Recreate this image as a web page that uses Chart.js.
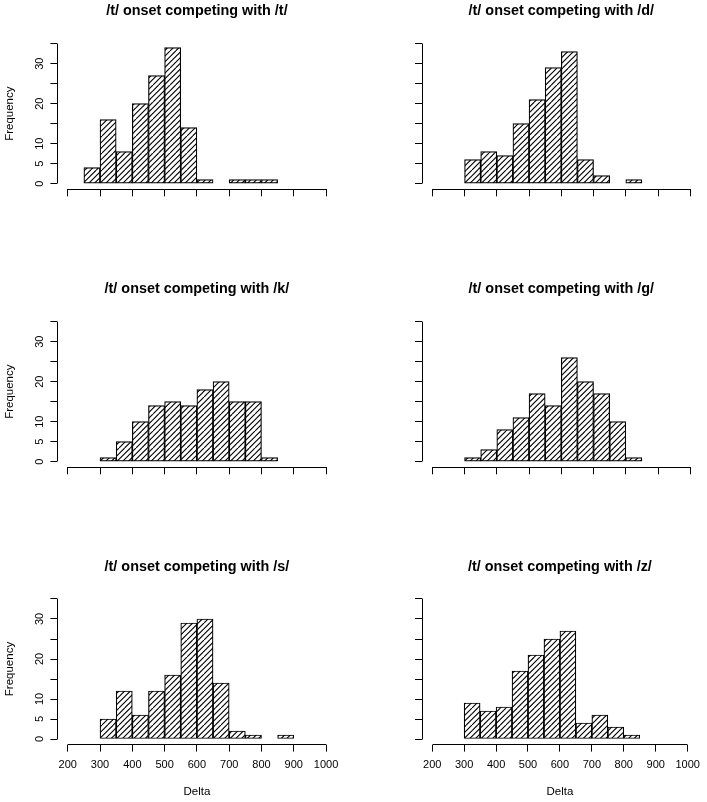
<!DOCTYPE html>
<html>
<head>
<meta charset="utf-8">
<script src="https://cdn.jsdelivr.net/npm/chart.js@4.4.1/dist/chart.umd.min.js"></script>
<style>
  html, body { margin: 0; padding: 0; background: #fff; }
  #wrap { position: relative; width: 707px; height: 802px; overflow: hidden; }
  #wrap canvas { position: absolute; }
</style>
</head>
<body>
<div id="wrap"></div>
<script>
// histogram data (bins of 50)
const panelNames = ['/t/', '/d/', '/k/', '/g/', '/s/', '/z/'];

const breaksT = [250, 300, 350, 400, 450, 500, 550, 600, 650, 700, 750, 800, 850];
const breaksMid = [300, 350, 400, 450, 500, 550, 600, 650, 700, 750, 800, 850];
const breaksS = [300, 350, 400, 450, 500, 550, 600, 650, 700, 750, 800, 850, 900];

const countsT = [4, 16, 8, 20, 27, 34, 14, 1, 0, 1, 1, 1];
const countsD = [6, 8, 7, 15, 21, 29, 33, 6, 2, 0, 1];
const countsK = [1, 5, 10, 14, 15, 14, 18, 20, 15, 15, 1];
const countsG = [1, 3, 8, 11, 17, 14, 26, 20, 17, 10, 1];
const countsS = [5, 12, 6, 12, 16, 29, 30, 14, 2, 1, 0, 1];
const countsZ = [9, 7, 8, 17, 21, 25, 27, 4, 6, 3, 1];

const xTicks = [200, 300, 400, 500, 600, 700, 800, 900, 1000];
const yTicks = [0, 5, 10, 15, 20, 25, 30, 35];
const yTickLabels = ['0', '5', '10', '', '20', '', '30', ''];

const panelBreaks = [breaksT, breaksMid, breaksMid, breaksMid, breaksS, breaksMid];
const panelCounts = [countsT, countsD, countsK, countsG, countsS, countsZ];

// page layout (pixels)
const colLeft = [0, 353], colWidth = [353, 354];
const rowTop = [0, 278, 555], rowHeight = [270, 270, 247];
const areaLeft = [57.4, 422.0], areaRight = [336.4, 700.6];
const areaTop = [38.1, 316.1, 593.4], areaBottom = [189.3, 467.3, 744.6];

const FONT = "'Liberation Sans', Arial, Helvetica, sans-serif";

// diagonal hatching like R's density= fill
function hatch() {
  const T = 17, n = 3;
  const c = document.createElement('canvas');
  c.width = T; c.height = T;
  const g = c.getContext('2d');
  g.fillStyle = '#fff';
  g.fillRect(0, 0, T, T);
  g.strokeStyle = '#000';
  g.lineWidth = 1.1;
  g.beginPath();
  for (let o = -T; o <= T; o += T / n) {
    g.moveTo(o, T);
    g.lineTo(o + T, 0);
  }
  g.stroke();
  return g.createPattern(c, 'repeat');
}

function align(p) { return Math.round(p - 0.5) + 0.5; }

// R draws the axis lines only from first to last tick
const rAxes = {
  id: 'rAxes',
  afterDraw(chart) {
    const {ctx, chartArea, scales} = chart;
    const x = scales.x, y = scales.y;
    ctx.save();
    ctx.strokeStyle = '#000';
    ctx.lineWidth = 1;
    ctx.beginPath();
    const by = align(chartArea.bottom);
    ctx.moveTo(align(x.getPixelForValue(xTicks[0])), by);
    ctx.lineTo(align(x.getPixelForValue(xTicks[xTicks.length - 1])), by);
    const lx = align(chartArea.left);
    ctx.moveTo(lx, align(y.getPixelForValue(yTicks[0])));
    ctx.lineTo(lx, align(y.getPixelForValue(yTicks[yTicks.length - 1])));
    ctx.stroke();
    ctx.restore();
  }
};

const wrap = document.getElementById('wrap');

panelNames.forEach(function(name, p) {
  const r = Math.floor(p / 2), c = p % 2;
  const canvas = document.createElement('canvas');
  canvas.width = colWidth[c];
  canvas.height = rowHeight[r];
  canvas.style.left = colLeft[c] + 'px';
  canvas.style.top = rowTop[r] + 'px';
  wrap.appendChild(canvas);

  const breaks = panelBreaks[p];
  const bars = panelCounts[p].map((n, i) => ({ x: (breaks[i] + breaks[i + 1]) / 2, y: n }));

  const titleLine = 14.4 * 1.2;
  const localTop = areaTop[r] - rowTop[r];
  const titlePadTop = localTop - 26.8 - titleLine / 2;
  const titlePadBottom = localTop - titlePadTop - titleLine;
  const bottomRow = r === 2, leftCol = c === 0;

  new Chart(canvas.getContext('2d'), {
    type: 'bar',
    data: {
      datasets: [{
        data: bars,
        backgroundColor: hatch(),
        borderColor: '#000',
        borderWidth: 1.2,
        borderSkipped: false,
        barPercentage: 1,
        categoryPercentage: 1
      }]
    },
    options: {
      responsive: false,
      animation: false,
      devicePixelRatio: 1,
      layout: {
        padding: { left: 0, top: 0, bottom: 0, right: colLeft[c] + colWidth[c] - areaRight[c] }
      },
      plugins: {
        legend: { display: false },
        tooltip: { enabled: false },
        title: {
          display: true,
          text: '/t/ onset competing with ' + name,
          fullSize: false,
          color: '#000',
          font: { family: FONT, size: 14.4, weight: 'bold', lineHeight: 1.2 },
          padding: { top: titlePadTop, bottom: titlePadBottom }
        }
      },
      scales: {
        x: {
          type: 'linear',
          min: 168,
          max: 1032,
          offset: false,
          afterBuildTicks: function(scale) { scale.ticks = xTicks.map(v => ({ value: v })); },
          afterFit: function(scale) { scale.height = rowTop[r] + rowHeight[r] - areaBottom[r]; },
          border: { display: false },
          grid: { display: true, offset: false, drawOnChartArea: false, drawTicks: true, tickLength: 7, color: '#000', lineWidth: 1 },
          ticks: {
            display: bottomRow,
            autoSkip: false,
            maxRotation: 0,
            padding: 6.8,
            color: '#000',
            font: { family: FONT, size: 11 },
            callback: function(v) { return String(v); }
          },
          title: {
            display: bottomRow,
            text: 'Delta',
            color: '#000',
            font: { family: FONT, size: 11.5, lineHeight: 1.2 },
            padding: { top: 0, bottom: 3.1 }
          }
        },
        y: {
          min: -1.4,
          max: 36.4,
          afterBuildTicks: function(scale) { scale.ticks = yTicks.map(v => ({ value: v })); },
          afterFit: function(scale) { scale.width = areaLeft[c] - colLeft[c]; },
          border: { display: false },
          grid: { display: true, drawOnChartArea: false, drawTicks: true, tickLength: 7, color: '#000', lineWidth: 1 },
          ticks: {
            display: leftCol,
            autoSkip: false,
            minRotation: 90,
            maxRotation: 90,
            crossAlign: 'center',
            padding: 4.6,
            color: '#000',
            font: { family: FONT, size: 11 },
            callback: function(v, i) { return yTickLabels[i]; }
          },
          title: {
            display: leftCol,
            text: 'Frequency',
            color: '#000',
            font: { family: FONT, size: 11.5, lineHeight: 1.2 },
            padding: { top: 3.1, bottom: 0 }
          }
        }
      }
    },
    plugins: [rAxes]
  });
});
</script>
</body>
</html>
